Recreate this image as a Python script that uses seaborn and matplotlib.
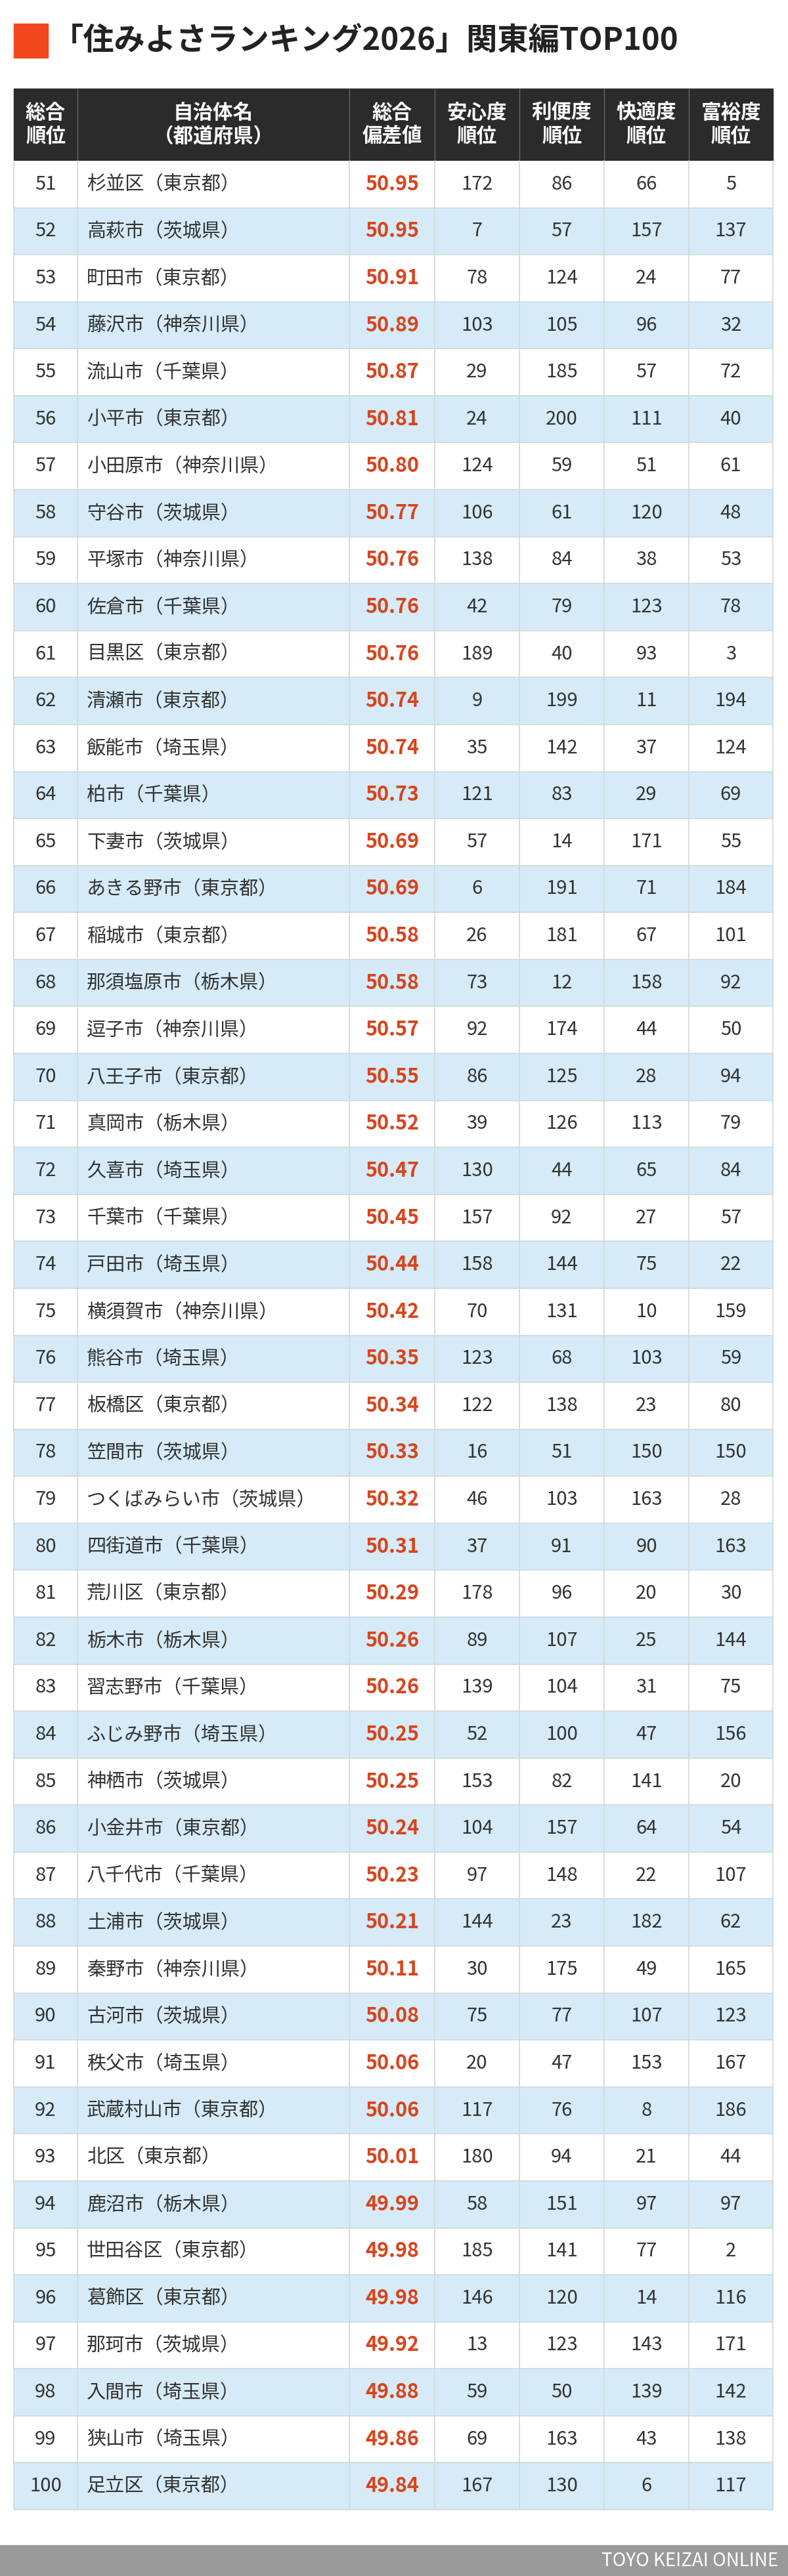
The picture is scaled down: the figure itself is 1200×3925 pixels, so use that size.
import matplotlib
matplotlib.use("Agg")
import matplotlib.pyplot as plt
import seaborn as sns
from matplotlib.patches import Rectangle

sns.set_theme(style="white")
plt.rcParams['font.family'] = ['Noto Sans CJK JP', 'DejaVu Sans']

ranks = list(range(51, 101))
names = ["杉並区（東京都）","高萩市（茨城県）","町田市（東京都）","藤沢市（神奈川県）","流山市（千葉県）",
"小平市（東京都）","小田原市（神奈川県）","守谷市（茨城県）","平塚市（神奈川県）","佐倉市（千葉県）",
"目黒区（東京都）","清瀬市（東京都）","飯能市（埼玉県）","柏市（千葉県）","下妻市（茨城県）",
"あきる野市（東京都）","稲城市（東京都）","那須塩原市（栃木県）","逗子市（神奈川県）","八王子市（東京都）",
"真岡市（栃木県）","久喜市（埼玉県）","千葉市（千葉県）","戸田市（埼玉県）","横須賀市（神奈川県）",
"熊谷市（埼玉県）","板橋区（東京都）","笠間市（茨城県）","つくばみらい市（茨城県）","四街道市（千葉県）",
"荒川区（東京都）","栃木市（栃木県）","習志野市（千葉県）","ふじみ野市（埼玉県）","神栖市（茨城県）",
"小金井市（東京都）","八千代市（千葉県）","土浦市（茨城県）","秦野市（神奈川県）","古河市（茨城県）",
"秩父市（埼玉県）","武蔵村山市（東京都）","北区（東京都）","鹿沼市（栃木県）","世田谷区（東京都）",
"葛飾区（東京都）","那珂市（茨城県）","入間市（埼玉県）","狭山市（埼玉県）","足立区（東京都）"]
scores = [50.95,50.95,50.91,50.89,50.87,50.81,50.80,50.77,50.76,50.76,50.76,50.74,50.74,50.73,50.69,
50.69,50.58,50.58,50.57,50.55,50.52,50.47,50.45,50.44,50.42,50.35,50.34,50.33,50.32,50.31,
50.29,50.26,50.26,50.25,50.25,50.24,50.23,50.21,50.11,50.08,50.06,50.06,50.01,49.99,49.98,
49.98,49.92,49.88,49.86,49.84]
anshin = [172,7,78,103,29,24,124,106,138,42,189,9,35,121,57,6,26,73,92,86,39,130,157,158,70,123,122,16,46,37,
178,89,139,52,153,104,97,144,30,75,20,117,180,58,185,146,13,59,69,167]
riben = [86,57,124,105,185,200,59,61,84,79,40,199,142,83,14,191,181,12,174,125,126,44,92,144,131,68,138,51,103,91,
96,107,104,100,82,157,148,23,175,77,47,76,94,151,141,120,123,50,163,130]
kaiteki = [66,157,24,96,57,111,51,120,38,123,93,11,37,29,171,71,67,158,44,28,113,65,27,75,10,103,23,150,163,90,
20,25,31,47,141,64,22,182,49,107,153,8,21,97,77,14,143,139,43,6]
fuyu = [5,137,77,32,72,40,61,48,53,78,3,194,124,69,55,184,101,92,50,94,79,84,57,22,159,59,80,150,28,163,
30,144,75,156,20,54,107,62,165,123,167,186,44,97,2,116,171,142,138,117]
headers = ["総合\n順位","自治体名\n（都道府県）","総合\n偏差値","安心度\n順位","利便度\n順位","快適度\n順位","富裕度\n順位"]

W, H = 1200, 3925
fig = plt.figure(figsize=(W/100, H/100), dpi=100)
ax = fig.add_axes([0, 0, 1, 1])
ax.set_xlim(0, W); ax.set_ylim(H, 0); ax.axis("off")

ax.add_patch(Rectangle((21, 36), 52, 52, color="#f2471c"))
ax.text(80, 62, "「住みよさランキング2026」関東編TOP100", fontsize=34, fontweight="bold",
        va="center", ha="left", color="#222222")

xs = [21, 118, 532, 662, 791, 920, 1049, 1177]
top, hb = 135, 245
rh = (3824 - hb) / 50
ax.add_patch(Rectangle((xs[0], top), xs[-1]-xs[0], hb-top, color="#2b2b2b"))
for i, h in enumerate(headers):
    ax.text((xs[i]+xs[i+1])/2, (top+hb)/2, h, color="white", fontsize=22, fontweight="bold",
            ha="center", va="center", linespacing=1.15)
for i in range(1, 7):
    ax.plot([xs[i], xs[i]], [top, hb], color="#666666", lw=1)

for r in range(50):
    y0 = hb + r*rh
    bg = "#d6ebf7" if r % 2 == 1 else "white"
    ax.add_patch(Rectangle((xs[0], y0), xs[-1]-xs[0], rh, facecolor=bg, edgecolor="none"))
    ax.plot([xs[0], xs[-1]], [y0+rh, y0+rh], color="#cfd8dc", lw=1.2)
    yc = y0 + rh/2
    ax.text((xs[0]+xs[1])/2, yc, str(ranks[r]), ha="center", va="center", fontsize=21, color="#333333")
    ax.text(xs[1]+14, yc, names[r], ha="left", va="center", fontsize=21, color="#333333")
    ax.text((xs[2]+xs[3])/2, yc, f"{scores[r]:.2f}", ha="center", va="center", fontsize=22,
            fontweight="bold", color="#d9441c")
    for j, arr in enumerate([anshin, riben, kaiteki, fuyu]):
        ax.text((xs[3+j]+xs[4+j])/2, yc, str(arr[r]), ha="center", va="center", fontsize=21, color="#333333")
for i in range(len(xs)):
    ax.plot([xs[i], xs[i]], [hb, 3824], color="#cfd8dc", lw=1.2)

ax.add_patch(Rectangle((0, 3878), W, H-3878, color="#9a9a9a"))
ax.text(1185, 3902, "TOYO KEIZAI ONLINE", ha="right", va="center", fontsize=20, color="white")

fig.savefig("out.png", dpi=100)
